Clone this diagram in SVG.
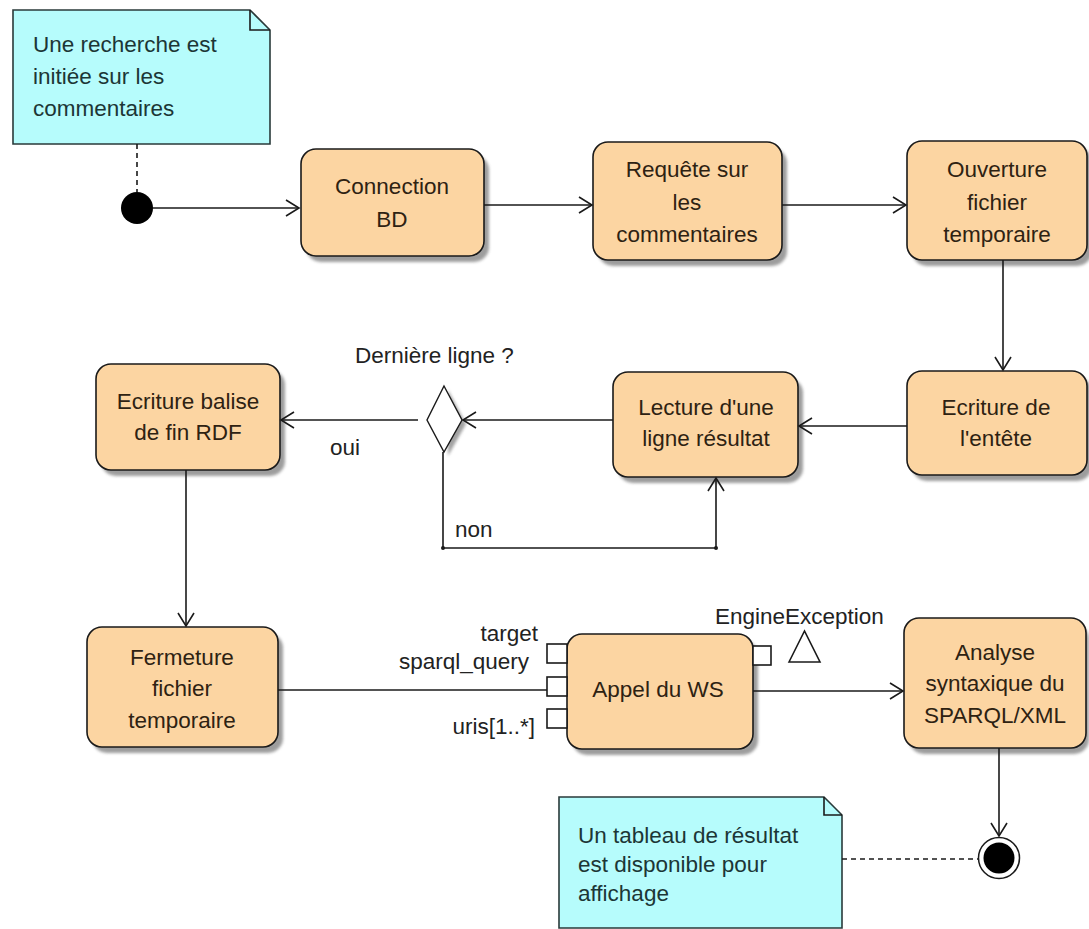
<svg xmlns="http://www.w3.org/2000/svg" width="1089" height="929" viewBox="0 0 1089 929">
<style>
.node rect.box{fill:#fcd5a2;stroke:#1a1a1a;stroke-width:1.6}
.node rect.sh{fill:#7d7d7d;opacity:.75;filter:url(#blur)}
.t{font-family:"Liberation Sans",Arial,sans-serif;font-size:22.5px;fill:#2e2212;text-anchor:middle}
.lbl{font-family:"Liberation Sans",Arial,sans-serif;font-size:22.5px;fill:#222}
.nt{font-family:"Liberation Sans",Arial,sans-serif;font-size:22.5px;fill:#1c3636}
.note{fill:#b6fcfc;stroke:#2a3a3a;stroke-width:1.6}
.c{stroke:#1a1a1a;stroke-width:1.6;fill:none}
.d{stroke:#1a1a1a;stroke-width:1.6;fill:none;stroke-dasharray:5,4}
.pin{fill:#fff;stroke:#1a1a1a;stroke-width:1.6}
</style>
<defs>
<filter id="blur" x="-10%" y="-10%" width="120%" height="120%"><feGaussianBlur stdDeviation="1.5"/></filter>
<marker id="arr" markerUnits="userSpaceOnUse" markerWidth="20" markerHeight="20" refX="0" refY="0" viewBox="-14 -10 16 20" orient="auto">
<path d="M-13,-8 L0,0 L-13,8" fill="none" stroke="#1a1a1a" stroke-width="1.6"/>
</marker>
</defs>
<rect width="1089" height="929" fill="#fff"/>

<g id="note1">
<path class="note" d="M13,10 H250 L270,30 V144 H13 Z"/>
<path class="c" d="M250,10 V30 H270"/>
<text class="nt" x="33" y="52">Une recherche est</text>
<text class="nt" x="33" y="84">initiée sur les</text>
<text class="nt" x="33" y="116">commentaires</text>
</g>

<g id="initial">
<circle cx="137" cy="208" r="16" fill="#000"/>
</g>

<g id="connection">
<g class="node">
<rect class="sh" x="306" y="155" width="183" height="107" rx="15"/>
<rect class="box" x="301" y="149" width="183" height="107" rx="15"/>
</g>
<text class="t" x="392" y="194">Connection</text>
<text class="t" x="392" y="227">BD</text>
</g>

<g id="requete">
<g class="node">
<rect class="sh" x="598" y="148" width="189" height="118" rx="15"/>
<rect class="box" x="593" y="142" width="189" height="118" rx="15"/>
</g>
<text class="t" x="687" y="177">Requête sur</text>
<text class="t" x="687" y="210">les</text>
<text class="t" x="687" y="242">commentaires</text>
</g>

<g id="ouverture">
<g class="node">
<rect class="sh" x="912" y="147" width="180" height="119" rx="15"/>
<rect class="box" x="907" y="141" width="180" height="119" rx="15"/>
</g>
<text class="t" x="997" y="177">Ouverture</text>
<text class="t" x="997" y="210">fichier</text>
<text class="t" x="997" y="242">temporaire</text>
</g>

<g id="entete">
<g class="node">
<rect class="sh" x="912" y="377" width="180" height="104" rx="15"/>
<rect class="box" x="907" y="371" width="180" height="104" rx="15"/>
</g>
<text class="t" x="996" y="415">Ecriture de</text>
<text class="t" x="996" y="446">l'entête</text>
</g>

<g id="lecture">
<g class="node">
<rect class="sh" x="618" y="378" width="185" height="105" rx="15"/>
<rect class="box" x="613" y="372" width="185" height="105" rx="15"/>
</g>
<text class="t" x="706" y="415">Lecture d'une</text>
<text class="t" x="706" y="446">ligne résultat</text>
</g>

<g id="decision">
<path d="M444,386 L462,420 L444,452 Z" fill="#8a8a8a" opacity=".8" filter="url(#blur)" transform="translate(4,4)"/>
<path d="M444,386 L462,420 L444,452 L427,420 Z" fill="#fff" stroke="#1a1a1a" stroke-width="1.4"/>
<text class="lbl" x="355" y="363">Dernière ligne ?</text>
</g>

<g id="balise">
<g class="node">
<rect class="sh" x="101" y="370" width="184" height="106" rx="15"/>
<rect class="box" x="96" y="364" width="184" height="106" rx="15"/>
</g>
<text class="t" x="188" y="409">Ecriture balise</text>
<text class="t" x="188" y="440">de fin RDF</text>
</g>

<g id="fermeture">
<g class="node">
<rect class="sh" x="92" y="633" width="191" height="120" rx="15"/>
<rect class="box" x="87" y="627" width="191" height="120" rx="15"/>
</g>
<text class="t" x="182" y="665">Fermeture</text>
<text class="t" x="182" y="696">fichier</text>
<text class="t" x="182" y="728">temporaire</text>
</g>

<g id="appel">
<g class="node">
<rect class="sh" x="572" y="640" width="186" height="115" rx="15"/>
<rect class="box" x="567" y="634" width="186" height="115" rx="15"/>
</g>
<text class="t" x="658" y="697">Appel du WS</text>
<rect class="pin" x="547" y="644" width="20" height="19"/>
<rect class="pin" x="547" y="677" width="20" height="19"/>
<rect class="pin" x="547" y="709" width="20" height="19"/>
<rect class="pin" x="753" y="646" width="18" height="19"/>
<path d="M789,662 L804.5,631 L820,662 Z" fill="#fff" stroke="#1a1a1a" stroke-width="1.6"/>
<text class="lbl" x="538" y="641" text-anchor="end">target</text>
<text class="lbl" x="529" y="669" text-anchor="end">sparql_query</text>
<text class="lbl" x="535" y="734" text-anchor="end">uris[1..*]</text>
<text class="lbl" x="715" y="624">EngineException</text>
</g>

<g id="analyse">
<g class="node">
<rect class="sh" x="909" y="624" width="180" height="130" rx="15"/>
<rect class="box" x="904" y="618" width="182" height="130" rx="15"/>
</g>
<text class="t" x="995" y="660">Analyse</text>
<text class="t" x="995" y="691">syntaxique du</text>
<text class="t" x="995" y="723">SPARQL/XML</text>
</g>

<g id="final">
<circle cx="999" cy="858" r="20.5" fill="#fff" stroke="#1a1a1a" stroke-width="1.5"/>
<circle cx="999" cy="858" r="15.5" fill="#000"/>
</g>

<g id="note2">
<path class="note" d="M559,797 H824 L842,815 V928 H559 Z"/>
<path class="c" d="M824,797 V815 H842"/>
<text class="nt" x="578" y="843">Un tableau de résultat</text>
<text class="nt" x="578" y="872">est disponible pour</text>
<text class="nt" x="578" y="901">affichage</text>
</g>

<g id="connectors">
<path class="d" d="M137,144 V192"/>
<path class="c" d="M153,208 H299" marker-end="url(#arr)"/>
<path class="c" d="M484,205 H592" marker-end="url(#arr)"/>
<path class="c" d="M782,205 H906" marker-end="url(#arr)"/>
<path class="c" d="M1003,260 V370" marker-end="url(#arr)"/>
<path class="c" d="M907,426 H799" marker-end="url(#arr)"/>
<path class="c" d="M613,420 H463" marker-end="url(#arr)"/>
<path class="c" d="M418,420 H281" marker-end="url(#arr)"/>
<text class="lbl" x="330" y="455">oui</text>
<path class="c" d="M443,452 V548 H716 V478" marker-end="url(#arr)"/>
<circle cx="443" cy="548" r="2" fill="#1a1a1a"/>
<circle cx="716" cy="548" r="2" fill="#1a1a1a"/>
<text class="lbl" x="455" y="537">non</text>
<path class="c" d="M186,470 V626" marker-end="url(#arr)"/>
<path class="c" d="M278,690 H547"/>
<path class="c" d="M753,691 H903" marker-end="url(#arr)"/>
<path class="c" d="M999,748 V836" marker-end="url(#arr)"/>
<path class="d" d="M842,859 H978"/>
</g>
</svg>
